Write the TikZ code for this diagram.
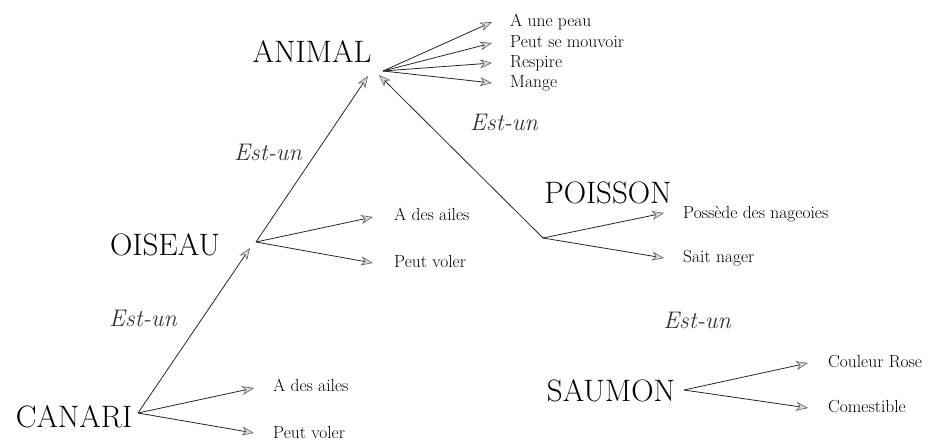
\documentclass[tikz,border=0pt]{standalone}
\usetikzlibrary{arrows.meta}
\begin{document}
\begin{tikzpicture}[x=1pt,y=-1pt,
  bigword/.style={font=\fontsize{31}{31}\selectfont, inner sep=0pt},
  prop/.style={font=\fontsize{17.5}{18}\selectfont, inner sep=0pt, anchor=base west},
  isa/.style={font=\fontsize{24}{24}\selectfont\itshape, text=black!80, inner sep=0pt},
  arr/.style={line width=0.8pt, black!85,
    -{Stealth[length=12pt,width=9pt,inset=3.5pt,fill=gray!30,color=gray!75!black,line width=0.6pt]}}]
\useasboundingbox (0,0) rectangle (945,440);

% main concept words
\node[bigword] (animal) at (312,52) {ANIMAL};
\node[bigword] (oiseau) at (165,245) {OISEAU};
\node[bigword] (canari) at (74,417) {CANARI};
\node[bigword] (poisson) at (608,193) {POISSON};
\node[bigword] (saumon) at (611,391) {SAUMON};

% hubs
\coordinate (ah) at (383,71);
\coordinate (oh) at (256,242);
\coordinate (ch) at (138,413);
\coordinate (ph) at (543,238);
\coordinate (sh) at (684,390);

% Est-un targets
\coordinate (atl) at (368,76);
\coordinate (atr) at (379,75);
\coordinate (ot) at (250,248);

% Est-un labels
\node[isa] (e1) at (143,318) {Est-un};
\node[isa] (e2) at (268,152) {Est-un};
\node[isa] (e3) at (504,122) {Est-un};
\node[isa] (e4) at (697,320) {Est-un};

% properties of ANIMAL
\node[prop] (a1) at (510,26) {A une peau};
\node[prop] (a2) at (510,47) {Peut se mouvoir};
\node[prop] (a3) at (510,67) {Respire};
\node[prop] (a4) at (510,87) {Mange};
\coordinate (ta1) at (492,22);
\coordinate (ta2) at (492,43);
\coordinate (ta3) at (492,63);
\coordinate (ta4) at (492,83);

% properties of OISEAU
\node[prop] (o1) at (394,220) {A des ailes};
\node[prop] (o2) at (394,267) {Peut voler};
\coordinate (to1) at (373,217);
\coordinate (to2) at (373,263);

% properties of CANARI
\node[prop] (c1) at (273,391) {A des ailes};
\node[prop] (c2) at (273,438) {Peut voler};
\coordinate (tc1) at (254,388);
\coordinate (tc2) at (254,433);

% properties of POISSON
\node[prop] (p1) at (683,218) {Possède des nageoies};
\node[prop] (p2) at (683,262) {Sait nager};
\coordinate (tp1) at (664,213);
\coordinate (tp2) at (664,258);

% properties of SAUMON
\node[prop] (s1) at (828,367) {Couleur Rose};
\node[prop] (s2) at (828,412) {Comestible};
\coordinate (ts1) at (808,363);
\coordinate (ts2) at (808,408);

% connectors
\draw[arr] (ah) -- (ta1);
\draw[arr] (ah) -- (ta2);
\draw[arr] (ah) -- (ta3);
\draw[arr] (ah) -- (ta4);

\draw[arr] (oh) -- (to1);
\draw[arr] (oh) -- (to2);
\draw[arr] (ch) -- (tc1);
\draw[arr] (ch) -- (tc2);
\draw[arr] (ph) -- (tp1);
\draw[arr] (ph) -- (tp2);
\draw[arr] (sh) -- (ts1);
\draw[arr] (sh) -- (ts2);

\draw[arr] (ch) -- (ot);
\draw[arr] (oh) -- (atl);
\draw[arr] (ph) -- (atr);
\end{tikzpicture}
\end{document}
